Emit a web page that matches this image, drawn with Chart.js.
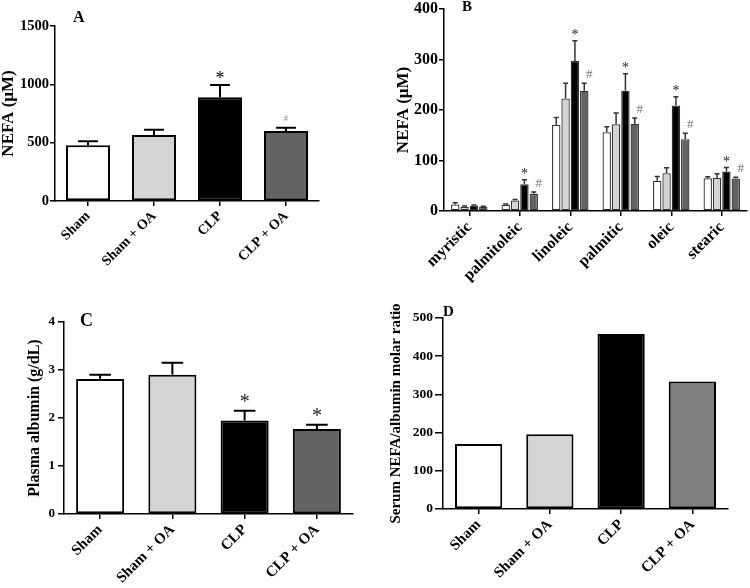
<!DOCTYPE html>
<html>
<head>
<meta charset="utf-8">
<script src="https://cdn.jsdelivr.net/npm/chart.js@4"></script>
<style>
  body { margin: 0; background: #fff; }
  #wrap { position: relative; width: 750px; height: 588px; }
  canvas { position: absolute; }
</style>
</head>
<body>
<div id="wrap">
  <canvas id="chartA" width="375" height="294" style="left:0;top:0"></canvas>
  <canvas id="chartB" width="375" height="294" style="left:375px;top:0"></canvas>
  <canvas id="chartC" width="375" height="294" style="left:0;top:294px"></canvas>
  <canvas id="chartD" width="375" height="294" style="left:375px;top:294px"></canvas>
</div>
<script>
// groups used in A, C, D
const groups = ["Sham", "Sham + OA", "CLP", "CLP + OA"];

// A: total NEFA (uM), mean and SEM
const nefaMean = [477, 566, 889, 600];
const nefaSem = [35, 45, 105, 28];
const nefaMarks = ["", "", "*", "#"];
const nefaTicks = [0, 500, 1000, 1500];

// B: individual fatty acids (uM)
const acids = ["myristic", "palmitoleic", "linoleic", "palmitic", "oleic", "stearic"];
const acidSham = [13, 12.5, 171, 156, 60, 65];
const acidShamSem = [3.5, 1.5, 14, 11, 8.5, 3];
const acidShamOA = [8.5, 21, 223, 172, 75, 66];
const acidShamOASem = [1.5, 2, 30, 22, 10.5, 8];
const acidCLP = [10.5, 53, 297, 238, 209, 78];
const acidCLPSem = [1.5, 9, 40, 34, 17, 8];
const acidCLPOA = [8.5, 34, 238, 173, 142, 64.5];
const acidCLPOASem = [0.8, 3.5, 15, 11, 12, 2.5];
const acidTicks = [0, 100, 200, 300, 400];

// C: plasma albumin (g/dL)
const albMean = [2.81, 2.9, 1.95, 1.77];
const albSem = [0.09, 0.25, 0.2, 0.09];
const albMarks = ["", "", "*", "*"];
const albTicks = [0, 1, 2, 3, 4];

// D: NEFA / albumin molar ratio
const ratio = [170, 196, 458, 334];
const ratioTicks = [0, 100, 200, 300, 400, 500];

const serif = "'Liberation Serif', 'Times New Roman', serif";

// draws upward error bars, significance marks and the panel letter
const extrasPlugin = {
  id: "extras",
  afterDatasetsDraw(chart, args, opts) {
    const ctx = chart.ctx;
    const ys = chart.scales.y;
    chart.data.datasets.forEach((ds, i) => {
      const meta = chart.getDatasetMeta(i);
      meta.data.forEach((bar, j) => {
        let top = bar.y;
        if (ds.errors) {
          const yTop = ys.getPixelForValue(ds.data[j] + ds.errors[j]);
          const cap = bar.width * opts.cap;
          ctx.save();
          ctx.strokeStyle = ds.errorColor || "#000";
          ctx.lineWidth = opts.errWidth;
          ctx.beginPath();
          ctx.moveTo(bar.x, bar.y);
          ctx.lineTo(bar.x, yTop);
          ctx.moveTo(bar.x - cap / 2, yTop);
          ctx.lineTo(bar.x + cap / 2, yTop);
          ctx.stroke();
          ctx.restore();
          top = yTop;
        }
        const m = ds.marks && ds.marks[j];
        if (m) {
          const st = opts.marks[m];
          ctx.save();
          ctx.fillStyle = st.color;
          ctx.font = st.font;
          ctx.textAlign = "center";
          ctx.textBaseline = "alphabetic";
          ctx.fillText(m, bar.x + st.dx, top - st.gap);
          ctx.restore();
        }
      });
    });
    const a = chart.chartArea;
    const L = opts.letter;
    ctx.save();
    ctx.fillStyle = "#000";
    ctx.font = "bold " + L.size + "px " + serif;
    ctx.textAlign = "left";
    ctx.textBaseline = "alphabetic";
    ctx.fillText(L.text, a.left + L.dx, a.top + L.dy);
    ctx.restore();
  }
};

function makeChart(id, cfg) {
  return new Chart(document.getElementById(id), {
    type: "bar",
    data: { labels: cfg.labels, datasets: cfg.datasets },
    options: {
      responsive: false,
      animation: false,
      devicePixelRatio: 1,
      layout: { padding: { top: cfg.padTop, right: cfg.padRight, left: 0, bottom: 0 } },
      plugins: {
        legend: { display: false },
        tooltip: { enabled: false },
        extras: cfg.extras
      },
      scales: {
        x: {
          grid: { offset: false, drawOnChartArea: false, drawTicks: true, tickLength: 5, color: "#000", lineWidth: 1.5 },
          border: { display: true, color: "#000", width: 1.5 },
          ticks: {
            color: "#000", maxRotation: 45, minRotation: 45, padding: 2,
            font: { family: serif, weight: "bold", size: cfg.xFont }
          },
          afterFit: s => { s.height = cfg.xHeight; }
        },
        y: {
          min: cfg.ticks[0],
          max: cfg.ticks[cfg.ticks.length - 1],
          afterBuildTicks: s => { s.ticks = cfg.ticks.map(v => ({ value: v })); },
          grid: { drawOnChartArea: false, drawTicks: true, tickLength: cfg.yTick, color: "#000", lineWidth: 1.5 },
          border: { display: true, color: "#000", width: 1.5 },
          ticks: {
            color: "#000", padding: cfg.yPad,
            callback: v => String(v),
            font: { family: serif, weight: "bold", size: cfg.yFont, lineHeight: 1 }
          },
          title: {
            display: true, text: cfg.title, color: "#000",
            padding: { top: cfg.titlePad, bottom: 0 },
            font: { family: serif, weight: "bold", size: cfg.titleFont, lineHeight: 1 }
          },
          afterFit: s => { s.width = cfg.yWidth; }
        }
      }
    },
    plugins: [extrasPlugin]
  });
}

const groupColors = ["#ffffff", "#d4d4d4", "#000000", "#636363"];

// Panel A
makeChart("chartA", {
  labels: groups,
  datasets: [{
    data: nefaMean, errors: nefaSem, marks: nefaMarks,
    backgroundColor: groupColors, borderColor: "#000", borderWidth: 2, borderSkipped: false,
    barPercentage: 0.667, categoryPercentage: 1
  }],
  padTop: 26, padRight: 56, yWidth: 55, xHeight: 93,
  ticks: nefaTicks, yTick: 5, yPad: 1, yFont: 14.5, xFont: 14,
  title: "NEFA (\u03bcM)", titleFont: 17, titlePad: 0,
  extras: {
    cap: 0.45, errWidth: 2,
    marks: {
      "*": { font: "18px " + serif, color: "#000", gap: 1, dx: 0 },
      "#": { font: "8px " + serif, color: "#888", gap: 7, dx: 0 }
    },
    letter: { text: "A", size: 16, dx: 18, dy: -4 }
  }
});

// Panel B
const bStyle = { borderColor: "#333", borderWidth: 1.3, borderSkipped: false, barPercentage: 0.9, categoryPercentage: 0.74, errorColor: "#333" };
const acidMarksCLP = ["", "*", "*", "*", "*", "*"];
const acidMarksCLPOA = ["", "#", "#", "#", "#", "#"];
makeChart("chartB", {
  labels: acids,
  datasets: [
    Object.assign({ data: acidSham, errors: acidShamSem, backgroundColor: "#ffffff" }, bStyle),
    Object.assign({ data: acidShamOA, errors: acidShamOASem, backgroundColor: "#d4d4d4" }, bStyle),
    Object.assign({ data: acidCLP, errors: acidCLPSem, marks: acidMarksCLP, backgroundColor: "#000000" }, bStyle),
    Object.assign({ data: acidCLPOA, errors: acidCLPOASem, marks: acidMarksCLPOA, backgroundColor: "#636363" }, bStyle)
  ],
  padTop: 8, padRight: 3, yWidth: 69, xHeight: 83,
  ticks: acidTicks, yTick: 5, yPad: 1, yFont: 16, xFont: 16,
  title: "NEFA (\u03bcM)", titleFont: 17, titlePad: 20,
  extras: {
    cap: 0.6, errWidth: 1.5,
    marks: {
      "*": { font: "14px " + serif, color: "#222", gap: 2, dx: 0 },
      "#": { font: "13px " + serif, color: "#777", gap: 5, dx: 5 }
    },
    letter: { text: "B", size: 15, dx: 18, dy: 1.5 }
  }
});

// Panel C
makeChart("chartC", {
  labels: groups,
  datasets: [{
    data: albMean, errors: albSem, marks: albMarks,
    backgroundColor: groupColors, borderColor: "#000", borderWidth: 2, borderSkipped: false,
    barPercentage: 0.665, categoryPercentage: 1
  }],
  padTop: 28, padRight: 22, yWidth: 64, xHeight: 74,
  ticks: albTicks, yTick: 6, yPad: 3, yFont: 13, xFont: 15,
  title: "Plasma albumin (g/dL)", titleFont: 16, titlePad: 27,
  extras: {
    cap: 0.45, errWidth: 2,
    marks: {
      "*": { font: "20px " + serif, color: "#222", gap: 3, dx: 0 }
    },
    letter: { text: "C", size: 18, dx: 16, dy: 4 }
  }
});

// Panel D
makeChart("chartD", {
  labels: groups,
  datasets: [{
    data: ratio,
    backgroundColor: ["#ffffff", "#d4d4d4", "#000000", "#808080"], borderColor: "#000", borderWidth: 2, borderSkipped: false,
    barPercentage: 0.663, categoryPercentage: 1
  }],
  padTop: 24, padRight: 22, yWidth: 68, xHeight: 79,
  ticks: ratioTicks, yTick: 8, yPad: 2, yFont: 13.5, xFont: 15,
  title: "Serum NEFA/albumin molar ratio", titleFont: 15, titlePad: 14,
  extras: {
    cap: 0.45, errWidth: 2, marks: {},
    letter: { text: "D", size: 15, dx: 0, dy: -2 }
  }
});
</script>
</body>
</html>
